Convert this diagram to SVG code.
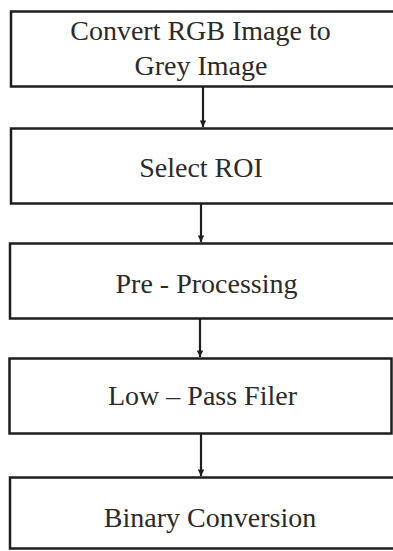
<svg xmlns="http://www.w3.org/2000/svg" width="393" height="551" viewBox="0 0 393 551">
<style>
.box{fill:#fff;stroke:#1e1e1e;stroke-width:2.5}
.lbl{font-family:"Liberation Serif","Times New Roman",serif;font-size:28px;fill:#2a2a2a;text-anchor:middle}
.con{stroke:#1e1e1e;stroke-width:2.2;fill:none}
</style>
<defs>
<marker id="ah" viewBox="0 0 10 10" refX="10" refY="5" markerWidth="3" markerHeight="3" orient="auto" markerUnits="strokeWidth">
<path d="M0,0 L10,5 L0,10 z" fill="#1e1e1e"/>
</marker>
</defs>
<rect width="393" height="551" fill="#fff"/>
<g id="connectors">
<line class="con" x1="203" y1="87" x2="203" y2="127" marker-end="url(#ah)"/>
<line class="con" x1="201" y1="204" x2="201" y2="242" marker-end="url(#ah)"/>
<line class="con" x1="200" y1="319" x2="200" y2="357" marker-end="url(#ah)"/>
<line class="con" x1="201" y1="434" x2="201" y2="476" marker-end="url(#ah)"/>
</g>
<g id="n1">
<rect class="box" x="11" y="11.5" width="390" height="75"/>
<text class="lbl" x="200.5" y="40">Convert RGB Image to</text>
<text class="lbl" x="201" y="75">Grey Image</text>
</g>
<g id="n2">
<rect class="box" x="11" y="128.5" width="390" height="75"/>
<text class="lbl" x="201" y="177">Select ROI</text>
</g>
<g id="n3">
<rect class="box" x="10" y="243.5" width="390" height="75"/>
<text class="lbl" x="206.5" y="293">Pre - Processing</text>
</g>
<g id="n4">
<rect class="box" x="9.5" y="358.5" width="382" height="75"/>
<text class="lbl" x="202.5" y="405">Low – Pass Filer</text>
</g>
<g id="n5">
<rect class="box" x="10" y="477.5" width="390" height="71"/>
<text class="lbl" x="210" y="527">Binary Conversion</text>
</g>
</svg>
